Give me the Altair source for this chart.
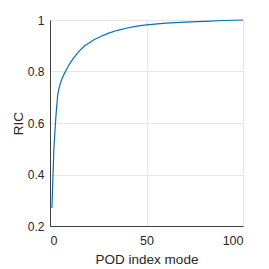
import altair as alt
import pandas as pd

modes = [1, 2, 3, 4, 5, 6, 7, 8, 10, 12, 15, 18, 20, 23, 26, 30, 35, 40, 45, 50, 60, 70, 80, 90, 100]
ric = [0.27, 0.50, 0.62, 0.71, 0.745, 0.768, 0.785, 0.80, 0.828, 0.85, 0.878, 0.90, 0.91,
       0.924, 0.935, 0.948, 0.96, 0.969, 0.976, 0.981, 0.988, 0.992, 0.995, 0.998, 1.0]

df = pd.DataFrame({"mode": modes, "ric": ric})

font = "Liberation Sans"

chart = alt.Chart(df).mark_line(color="#0072BD", strokeWidth=1.2).encode(
    x=alt.X("mode:Q", scale=alt.Scale(domain=[0, 100], nice=False),
            axis=alt.Axis(values=[0, 50, 100], title="POD index mode", format="d")),
    y=alt.Y("ric:Q", scale=alt.Scale(domain=[0.2, 1], nice=False, zero=False),
            axis=alt.Axis(values=[0.2, 0.4, 0.6, 0.8, 1.0], title="RIC",
                          labelExpr="datum.value == 1 ? '1' : format(datum.value, '.1f')")),
).properties(
    width=193, height=206,
    autosize=alt.AutoSizeParams(type="none"),
    padding={"left": 42, "top": 12, "right": 10, "bottom": 43},
).configure_view(
    stroke="#404040", strokeWidth=1
).configure_axis(
    labelFont=font, titleFont=font, labelFontSize=12.5, titleFontSize=13.5,
    labelColor="#262626", titleColor="#262626", titleFontWeight="normal",
    domainColor="#404040", tickSize=0, grid=True, gridColor="#e6e6e6",
    labelPadding=7,
).configure_axisX(
    titlePadding=6, labelPadding=8
).configure_axisY(
    titlePadding=2, labelPadding=6, labelFontSize=12
)

chart.save("out.html", embed_options={"renderer": "svg", "actions": False})
